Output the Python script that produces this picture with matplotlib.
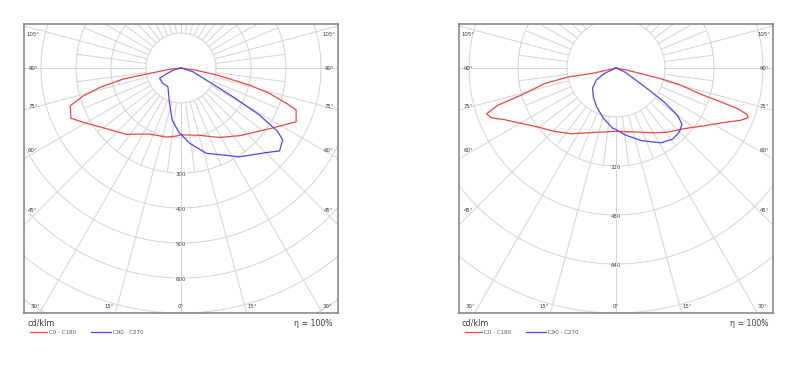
import numpy as np
import matplotlib
matplotlib.use("Agg")
import matplotlib.pyplot as plt
from matplotlib.patches import Rectangle

# ---------------- data (gamma from nadir in degrees, intensity in cd/klm) ----------------
# Left diagram
L_c0_gamma = [0, 15, 29, 41, 57, 65, 70, 71.5, 74, 76, 79, 82, 90]
L_c0_I = [191, 199, 227, 256, 314, 363, 350, 317, 262, 202, 103, 40, 0]
L_c180_gamma = [0, 4, 12, 25.5, 39.6, 54.2, 60.9, 65.5, 71.2, 74.1, 76.6, 79.2, 80.2, 84, 90]
L_c180_I = [191, 195, 202, 209, 246, 287, 319, 346, 334, 290, 237, 167, 89, 30, 0]
L_c90_gamma = [0, 6.4, 16.5, 33.4, 45.2, 49.9, 54.7, 56.7, 59.1, 61, 64.5, 72.6, 90]
L_c90_I = [189, 216, 254, 304, 343, 368, 356, 331, 261, 169, 80, 35, 0]
L_c270_gamma = [0, 1.3, 9.6, 18, 35.2, 50, 64.4, 67.9, 76, 90]
L_c270_I = [189, 187, 151, 106, 65, 68, 68, 46, 20, 0]

# Right diagram
R_c0_gamma = [0, 16, 30.6, 38.8, 48.4, 55.6, 62.4, 67.3, 69.4, 70.5, 71.5, 72.1, 72.8, 75.1, 76.6, 77.2, 78.9, 90]
R_c0_I = [207, 217, 246, 269, 298, 337, 387, 442, 461, 454, 419, 360, 290, 220, 151, 84, 39, 0]
R_c180_gamma = [0, 13.2, 23.6, 34.4, 44.3, 53, 65.2, 68.3, 70.5, 72.5, 74, 77.6, 79.4, 77, 90]
R_c180_I = [207, 215, 231, 260, 289, 320, 402, 439, 448, 405, 323, 240, 160, 73, 0]
R_c90_gamma = [0, 7.9, 19.2, 31, 38.6, 44.6, 49.6, 52.4, 54.7, 56.3, 58.6, 65.7, 90]
R_c90_I = [201, 221, 251, 285, 297, 294, 283, 253, 193, 131, 76, 33, 0]
R_c270_gamma = [0, 3.2, 14.2, 26.3, 38.1, 49.2, 58.6, 64.8, 90]
R_c270_I = [201, 197, 169, 142, 120, 101, 76, 42, 0]

L_ring_step = 100
L_ring_labels = [300, 400, 500, 600]
R_ring_step = 160
R_ring_labels = [320, 480, 640]

side_angle_labels = ["105°", "90°", "75°", "60°", "45°"]
bottom_angle_labels = ["30°", "15°", "0°", "15°", "30°"]
unit_label = "cd/klm"
eff_label = "η = 100%"
legend_labels = ["C0 - C180", "C90 - C270"]

RED = "#f04545"
BLUE = "#4848f0"
GRID = "#d6d6d6"
TXT = "#3a3a3a"

W, H = 802, 365
fig = plt.figure(figsize=(W / 100, H / 100), dpi=100)


def half_xy(gamma, inten, side):
    g = np.radians(np.asarray(gamma, float))
    i = np.asarray(inten, float)
    return side * i * np.sin(g), -i * np.cos(g)


def curve(gl, il, gr, ir):
    xl, yl = half_xy(gl, il, -1)
    xr, yr = half_xy(gr, ir, 1)
    return np.concatenate([xl[::-1], xr]), np.concatenate([yl[::-1], yr])


def panel(left_px, R, step, ring_labels, fine_end, c0180, c90270):
    box_l, box_t, box_w, box_h = left_px, 24, 314, 289
    ax = fig.add_axes([box_l / W, (H - box_t - box_h) / H, box_w / W, box_h / H])
    s = 245.0 / R  # px per unit
    ax.set_xlim(-157 / s, 157 / s)
    ax.set_ylim(-R, 44 / s)
    ax.set_xticks([])
    ax.set_yticks([])
    for sp in ax.spines.values():
        sp.set_color("#808080")
        sp.set_linewidth(1.1)

    # rings
    t = np.linspace(0, 2 * np.pi, 721)
    for k in range(1, 12):
        r = k * step
        ax.plot(r * np.cos(t), r * np.sin(t), color=GRID, lw=0.75, zorder=1)
    # radial lines: every 15 deg to the border, in-between ones near the centre
    for a in np.arange(0, 360, 7.5):
        g = np.radians(a)
        r1 = step
        r2 = 4 * R if a % 15 == 0 else fine_end
        ax.plot([r1 * np.sin(g), r2 * np.sin(g)], [-r1 * np.cos(g), -r2 * np.cos(g)],
                color=GRID, lw=0.75, zorder=1)

    # curves
    x, y = curve(*c0180)
    ax.plot(x, y, color=RED, lw=0.9, zorder=3)
    x, y = curve(*c90270)
    ax.plot(x, y, color=BLUE, lw=0.9, zorder=3)

    # ring labels
    for v in ring_labels:
        ax.text(0, -v - 1.5 / s, str(v), ha="center", va="center", fontsize=3.9,
                color=TXT, zorder=4,
                bbox=dict(facecolor="white", edgecolor="none", pad=0.2))

    # angle labels
    side_dy = [-33, 0, 38, 82, 143]
    for lab, dy in zip(side_angle_labels, side_dy):
        for sx in (-148, 148):
            ax.text(sx / s, -dy / s, lab, ha="center", va="center", fontsize=3.9,
                    color=TXT, zorder=4)
    bot_dx = [-146, -71.5, 0, 71.5, 146]
    for lab, dx in zip(bottom_angle_labels, bot_dx):
        ax.text(dx / s, -238.5 / s, lab, ha="center", va="center", fontsize=3.9,
                color=TXT, zorder=4)

    # texts under the box
    fig.text((left_px + 3) / W, 1 - 323 / H, unit_label, ha="left", va="center",
             fontsize=5.8, color=TXT)
    fig.text((left_px + 309) / W, 1 - 323 / H, eff_label, ha="right", va="center",
             fontsize=5.6, color=TXT)
    ly = 1 - 332.3 / H
    fig.add_artist(plt.Line2D([(left_px + 6) / W, (left_px + 23) / W], [ly, ly],
                              color=RED, lw=0.9))
    fig.text((left_px + 25) / W, ly, legend_labels[0], ha="left", va="center",
             fontsize=4.0, color="#555555")
    fig.add_artist(plt.Line2D([(left_px + 67) / W, (left_px + 87) / W], [ly, ly],
                              color=BLUE, lw=0.9))
    fig.text((left_px + 89) / W, ly, legend_labels[1], ha="left", va="center",
             fontsize=4.0, color="#555555")
    return ax


panel(24, 700, L_ring_step, L_ring_labels, 300,
      (L_c180_gamma, L_c180_I, L_c0_gamma, L_c0_I),
      (L_c270_gamma, L_c270_I, L_c90_gamma, L_c90_I))
panel(459, 800, R_ring_step, R_ring_labels, 320,
      (R_c180_gamma, R_c180_I, R_c0_gamma, R_c0_I),
      (R_c270_gamma, R_c270_I, R_c90_gamma, R_c90_I))

# the left legend row is cut off in the reference
fig.add_artist(Rectangle((20 / W, 0), 160 / W, 1 - 333.8 / H, transform=fig.transFigure,
                         facecolor="white", edgecolor="none", zorder=10))

fig.savefig("out.png", dpi=100, facecolor="white")
